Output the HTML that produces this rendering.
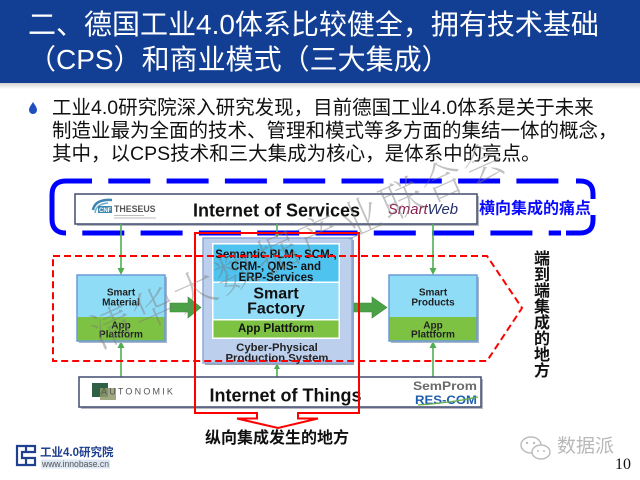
<!DOCTYPE html>
<html><head><meta charset="utf-8">
<style>
html,body{margin:0;padding:0;background:#fff;}
#pg{position:relative;width:640px;height:480px;overflow:hidden;background:#fff;font-family:"Liberation Sans","Noto Sans CJK SC",sans-serif;}
#hd{position:absolute;left:0;top:0;width:640px;height:83px;background:#123f93;}
#hs{position:absolute;left:0;top:83px;width:640px;height:6px;background:linear-gradient(#d0d0d0,#fff);}
.tl{position:absolute;left:28px;color:#fff;font-size:28px;line-height:35px;white-space:nowrap;}
.bl{position:absolute;left:52px;color:#111;font-size:19.5px;line-height:23px;white-space:nowrap;}
svg{position:absolute;left:0;top:0;}
</style></head><body>
<div id="pg">
<div id="hd"></div><div id="hs"></div>
<div class="tl" style="top:7px">二、德国工业4.0体系比较健全，拥有技术基础</div>
<div class="tl" style="top:42px">（CPS）和商业模式（三大集成）</div>
<div class="bl" style="top:97px">工业4.0研究院深入研究发现，目前德国工业4.0体系是关于未来</div>
<div class="bl" style="top:120px">制造业最为全面的技术、管理和模式等多方面的集结一体的概念，</div>
<div class="bl" style="top:143px">其中，以CPS技术和三大集成为核心，是体系中的亮点。</div>

<svg width="640" height="480" viewBox="0 0 640 480">
<!-- bullet -->
<path d="M33,102 C32,104 29,107 29,110 A4,4 0 0 0 37,110 C37,107 34,104 33,102 Z" fill="#1f4fbf"/>

<!-- Internet of Services box -->
<rect x="77" y="196" width="402" height="30" fill="#b8b8c0"/>
<rect x="75" y="194" width="402" height="30" fill="#fff" stroke="#404c70" stroke-width="1.5"/>
<text x="276.5" y="216.5" font-family="Liberation Sans,sans-serif" font-weight="bold" font-size="18" text-anchor="middle" fill="#111">Internet of Services</text>
<!-- THESEUS logo -->
<g>
<path d="M93,210 Q95,199 112,200" fill="none" stroke="#3c86b0" stroke-width="2.5"/>
<path d="M95,213 Q96,204 108,203" fill="none" stroke="#6aaed0" stroke-width="1.5"/>
<rect x="98" y="206" width="14" height="7" fill="#3c86b0"/>
<text x="99" y="212" font-family="Liberation Sans,sans-serif" font-size="6" font-weight="bold" fill="#fff">CNF</text>
<text x="114" y="212" font-family="Liberation Sans,sans-serif" font-size="8.8" fill="#555" font-weight="bold">THESEUS</text>
<rect x="114" y="215" width="30" height="1" fill="#bbb"/>
<rect x="114" y="217.5" width="42" height="1" fill="#bbb"/>
</g>
<!-- SmartWeb logo -->
<text x="388" y="214" font-family="Liberation Sans,sans-serif" font-style="italic" font-size="15" textLength="70" lengthAdjust="spacingAndGlyphs"><tspan fill="#8b1d4f">Smart</tspan><tspan fill="#26306b">Web</tspan></text>

<!-- Blue dashed border -->
<g stroke="#0000ff" stroke-width="5" fill="none">
<path d="M66,181 Q52,181 52,195 L52,219 Q52,233 66,233"/>
<line x1="66" y1="181" x2="561" y2="181" stroke-dasharray="42 16.3" stroke-dashoffset="16"/>
<line x1="66" y1="233" x2="561" y2="233" stroke-dasharray="42 16.3" stroke-dashoffset="42"/>
<path d="M576,181 L580,181 Q593,181 593,194 L593,199"/>
<path d="M593,215 L593,220 Q593,233 580,233 L566,233"/>
</g>
<text x="535" y="213.5" font-family="Liberation Sans,'Noto Sans CJK SC',sans-serif" font-weight="bold" font-size="16" text-anchor="middle" fill="#0a0aff">横向集成的痛点</text>

<!-- green thin connectors -->
<g stroke="#4fae4f" stroke-width="1.6">
<line x1="121" y1="224" x2="121" y2="270"/>
<line x1="433" y1="224" x2="433" y2="270"/>
<line x1="277" y1="224" x2="277" y2="234"/>
<line x1="121" y1="377" x2="121" y2="346"/>
<line x1="433" y1="377" x2="433" y2="346"/>
<line x1="277" y1="377" x2="277" y2="367"/>
</g>
<g fill="#4fae4f">
<polygon points="117.5,268 124.5,268 121,275"/>
<polygon points="429.5,268 436.5,268 433,275"/>
<polygon points="274,232 280,232 277,238"/>
<polygon points="117.5,348 124.5,348 121,341"/>
<polygon points="429.5,348 436.5,348 433,341"/>
<polygon points="274,369 280,369 277,363"/>
</g>

<!-- Smart Material -->
<rect x="79" y="277" width="88" height="66" fill="#a9b6c8"/>
<rect x="77" y="275" width="88" height="42" fill="#8fdcf7"/>
<rect x="77" y="317" width="88" height="24" fill="#7dc242"/>
<rect x="77" y="275" width="88" height="66" fill="none" stroke="#6b9bd6" stroke-width="1.5"/>
<g font-family="Liberation Sans,sans-serif" font-weight="bold" font-size="10" text-anchor="middle" fill="#222">
<text x="121" y="295.5">Smart</text><text x="121" y="305.5">Material</text>
<text x="121" y="328.5">App</text><text x="121" y="337.5">Plattform</text>
</g>
<!-- Smart Products -->
<rect x="391" y="277" width="88" height="66" fill="#a9b6c8"/>
<rect x="389" y="275" width="88" height="42" fill="#8fdcf7"/>
<rect x="389" y="317" width="88" height="24" fill="#7dc242"/>
<rect x="389" y="275" width="88" height="66" fill="none" stroke="#6b9bd6" stroke-width="1.5"/>
<g font-family="Liberation Sans,sans-serif" font-weight="bold" font-size="10" text-anchor="middle" fill="#222">
<text x="433" y="295.5">Smart</text><text x="433" y="305.5">Products</text>
<text x="433" y="328.5">App</text><text x="433" y="337.5">Plattform</text>
</g>

<!-- CPPS central -->
<rect x="205" y="240" width="149" height="125" fill="#9aa3b0"/>
<rect x="203" y="238" width="149" height="125" fill="#bcd0ee" stroke="#8ea9d8" stroke-width="1.5"/>
<rect x="212" y="243" width="128" height="96" fill="#fff"/>
<rect x="213.5" y="244.5" width="125" height="37" fill="#4ec3f0"/>
<rect x="213.5" y="283" width="125" height="36" fill="#93ddf8"/>
<rect x="213.5" y="320.5" width="125" height="17" fill="#7dc242"/>
<g font-family="Liberation Sans,sans-serif" font-weight="bold" text-anchor="middle" fill="#111">
<text x="276" y="258" font-size="11.5">Semantic PLM-, SCM-,</text>
<text x="276" y="270" font-size="11.5">CRM-, QMS- and</text>
<text x="276" y="281" font-size="11.5">ERP-Services</text>
<text x="276" y="298.5" font-size="16">Smart</text>
<text x="276" y="313.5" font-size="16">Factory</text>
<text x="276" y="332" font-size="11.5">App Plattform</text>
<text x="277" y="351" font-size="11.3" fill="#222">Cyber-Physical</text>
<text x="277" y="361.5" font-size="11.3" fill="#222">Production System</text>
</g>

<!-- green fat arrows -->
<polygon points="170,303 188,303 188,297 201,307.5 188,318 188,312 170,312" fill="#4aa146" stroke="#3d8a3a" stroke-width="0.6"/>
<polygon points="354,303 372,303 372,297 387,307.5 372,318 372,312 354,312" fill="#4aa146" stroke="#3d8a3a" stroke-width="0.6"/>

<!-- red dashed end-to-end region -->
<polygon points="53,256 487,256 522,308 487,361 53,361" fill="none" stroke="#ff0000" stroke-width="2" stroke-dasharray="7 4"/>
<g font-family="Liberation Sans,'Noto Sans CJK SC',sans-serif" font-weight="bold" font-size="16" text-anchor="middle" fill="#111">
<text x="542" y="264">端</text><text x="542" y="280">到</text><text x="542" y="296">端</text><text x="542" y="312">集</text>
<text x="542" y="328">成</text><text x="542" y="344">的</text><text x="542" y="360">地</text><text x="542" y="376">方</text>
</g>

<!-- Internet of Things box -->
<rect x="81" y="379" width="402" height="30" fill="#b8b8c0"/>
<rect x="79" y="377" width="402" height="30" fill="#fff" stroke="#404c70" stroke-width="1.5"/>
<text x="285.5" y="401.5" font-family="Liberation Sans,sans-serif" font-weight="bold" font-size="18" text-anchor="middle" fill="#111">Internet of Things</text>
<!-- AUTONOMIK -->
<rect x="92" y="383" width="16" height="14" fill="#2f5f45"/>
<rect x="100" y="388" width="16" height="12" fill="#8f9a6c" opacity="0.85"/>
<text x="101" y="394.5" font-family="Liberation Sans,sans-serif" font-size="9" letter-spacing="2.2" fill="#555">AUTONOMIK</text>
<!-- SemProm / RES-COM -->
<text x="413" y="390" font-family="Liberation Sans,sans-serif" font-weight="bold" font-size="12" textLength="64" lengthAdjust="spacingAndGlyphs" fill="#6a6a6a">SemProm</text>
<text x="415" y="404" font-family="Liberation Sans,sans-serif" font-weight="bold" font-size="11.5" textLength="62" lengthAdjust="spacingAndGlyphs" fill="#1f5fae">RES-COM</text>
<path d="M418,405 Q450,403 478,397" fill="none" stroke="#6ab04a" stroke-width="1.2"/>

<!-- red solid vertical region with down arrow -->
<path d="M195,233 L359,233 L359,413 L298,413 L298,418.5 L318,418.5 L278,428 L237,418.5 L257,418.5 L257,413 L195,413 Z" fill="none" stroke="#ff0000" stroke-width="2"/>
<text x="277" y="443" font-family="Liberation Sans,'Noto Sans CJK SC',sans-serif" font-weight="bold" font-size="16" text-anchor="middle" fill="#111">纵向集成发生的地方</text>

<!-- watermark -->
<g font-family="'Noto Serif CJK SC','Noto Sans CJK SC',serif" font-weight="200" font-size="42" fill="#7a7a7a" opacity="0.45" text-anchor="middle">
<text transform="translate(112,327) rotate(-24)" y="15">清</text>
<text transform="translate(153.3,308.8) rotate(-24)" y="15">华</text>
<text transform="translate(194.7,290.6) rotate(-24)" y="15">大</text>
<text transform="translate(236,272.3) rotate(-24)" y="15">数</text>
<text transform="translate(277.3,254.1) rotate(-24)" y="15">据</text>
<text transform="translate(318.7,235.9) rotate(-24)" y="15">产</text>
<text transform="translate(360,217.7) rotate(-24)" y="15">业</text>
<text transform="translate(401.3,199.4) rotate(-24)" y="15">联</text>
<text transform="translate(442.7,181.2) rotate(-24)" y="15">合</text>
<text transform="translate(484,163) rotate(-24)" y="15">会</text>
</g>

<!-- bottom-left logo -->
<g fill="none" stroke="#1f3f8f" stroke-width="2.2">
<path d="M17,446 L35,446 L35,452 L22,452 L22,458 L35,458 L35,465 L17,465 Z"/>
<path d="M26,446 L26,452 M26,458 L26,465"/>
</g>
<text x="40" y="456" font-family="Liberation Sans,'Noto Sans CJK SC',sans-serif" font-weight="bold" font-size="11.5" fill="#1f3f8f">工业4.0研究院</text>
<rect x="41" y="459.5" width="69" height="9" fill="#dde6f3"/>
<text x="42" y="467" font-family="Liberation Sans,sans-serif" font-size="9" fill="#555" textLength="67" lengthAdjust="spacingAndGlyphs">www.innobase.cn</text>

<!-- wechat watermark -->
<g fill="none" stroke="#bdbdbd" stroke-width="1.5">
<ellipse cx="531" cy="445" rx="10" ry="8"/>
<ellipse cx="541" cy="452" rx="9" ry="7" fill="#fff"/>
</g>
<g fill="#bdbdbd"><circle cx="527" cy="443" r="1.2"/><circle cx="534" cy="443" r="1.2"/><circle cx="538" cy="451" r="1"/><circle cx="544" cy="451" r="1"/></g>
<text x="557" y="452" font-family="Liberation Sans,'Noto Sans CJK SC',sans-serif" font-size="19" fill="#b8b8b8">数据派</text>
<text x="615" y="469" font-family="Liberation Serif,serif" font-size="16" fill="#111">10</text>
</svg>
</div>
</body></html>
